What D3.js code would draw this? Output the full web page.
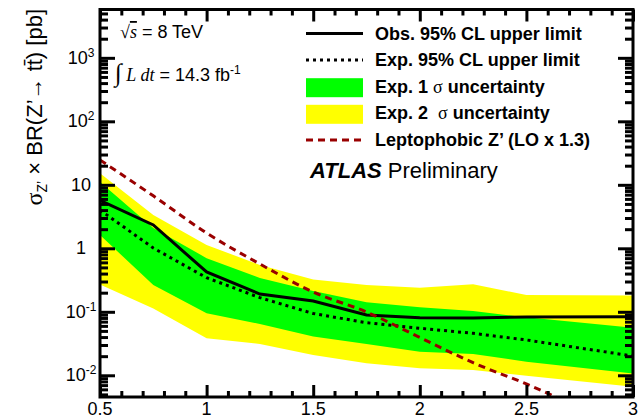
<!DOCTYPE html>
<html>
<head>
<meta charset="utf-8">
<script src="https://cdn.jsdelivr.net/npm/d3@7"></script>
<style>
  html, body { margin: 0; padding: 0; background: #fff; }
  svg { display: block; }
  text { font-family: "Liberation Sans", Arial, Helvetica, sans-serif; fill: #000; }
</style>
</head>
<body>
<svg id="chart" width="640" height="419"></svg>
<script>
// Z' mass points (TeV) used for the limit curves
const massPoints = [0.5, 0.75, 1.0, 1.25, 1.5, 1.75, 2.0, 2.25, 2.5, 3.0];
// 95% CL upper limits on sigma x BR (pb)
const observed = [5.7, 2.33, 0.424, 0.19, 0.148, 0.089, 0.0807, 0.0798, 0.0828, 0.0837];
const expected = [4.0, 1.01, 0.344, 0.167, 0.094, 0.0673, 0.055, 0.0458, 0.036, 0.0201];
// expected-limit uncertainty bands
const plus1Sigma  = [11.1, 2.09, 0.70, 0.34, 0.213, 0.141, 0.118, 0.103, 0.0818, 0.0563];
const minus1Sigma = [1.62, 0.264, 0.0946, 0.0643, 0.0408, 0.0311, 0.0235, 0.0216, 0.0164, 0.0107];
const plus2Sigma  = [15.2, 3.34, 1.13, 0.546, 0.323, 0.264, 0.240, 0.271, 0.184, 0.180];
const minus2Sigma = [0.269, 0.113, 0.0383, 0.0311, 0.0209, 0.0155, 0.0129, 0.0121, 0.00986, 0.0066];
// leptophobic Z' theory cross section (LO x 1.3)
const theoryMass = [0.5, 0.75, 1.0, 1.25, 1.5, 1.75, 2.0, 2.25, 2.5, 2.75, 3.0];
const theoryXsec = [24.6, 6.7, 1.74, 0.566, 0.205, 0.0993, 0.0394, 0.0158, 0.0073, 0.0031, 0.0014];
// axis ticks
const xMajorTicks = [0.5, 1, 1.5, 2, 2.5, 3];
const xTickLabels = ["0.5", "1", "1.5", "2", "2.5", "3"];
const yMajorTicks = [0.01, 0.1, 1, 10, 100, 1000];
const yTickBase = ["10", "10", "1", "10", "10", "10"];
const yTickExp  = ["-2", "-1", "", "", "2", "3"];

const svg = d3.select("#chart");
const L = 100, R = 633, T = 9.5, B = 397;

const x = d3.scaleLinear().domain([0.5, 3]).range([L, R]);
const y = d3.scaleLog().domain([0.00455, 5770]).range([B, T]);

svg.append("defs").append("clipPath").attr("id", "plotClip")
  .append("rect").attr("x", L).attr("y", T).attr("width", R - L).attr("height", B - T);

const plot = svg.append("g").attr("clip-path", "url(#plotClip)");

const rows = massPoints.map((m, i) => ({
  m, obs: observed[i], exp: expected[i],
  p1: plus1Sigma[i], m1: minus1Sigma[i], p2: plus2Sigma[i], m2: minus2Sigma[i]
}));

const band = (lo, hi) => d3.area().x(d => x(d.m)).y0(d => y(d[lo])).y1(d => y(d[hi]));

plot.append("path").datum(rows).attr("d", band("m2", "p2")).attr("fill", "#ffff00");
plot.append("path").datum(rows).attr("d", band("m1", "p1")).attr("fill", "#00ff00");

const line = key => d3.line().x(d => x(d.m)).y(d => y(d[key]));

plot.append("path").datum(rows).attr("d", line("exp"))
  .attr("fill", "none").attr("stroke", "#000").attr("stroke-width", 3)
  .attr("stroke-dasharray", "3,4");
plot.append("path").datum(rows).attr("d", line("obs"))
  .attr("fill", "none").attr("stroke", "#000").attr("stroke-width", 3);

const theory = theoryMass.map((m, i) => ({ m, v: theoryXsec[i] }));
plot.append("path").datum(theory)
  .attr("d", d3.line().x(d => x(d.m)).y(d => y(d.v)).curve(d3.curveMonotoneX))
  .attr("fill", "none").attr("stroke", "#990000").attr("stroke-width", 3)
  .attr("stroke-dasharray", "7,5");

// tick marks on all four sides, pointing inward
const xMinor = d3.range(5, 31).map(v => v / 10).filter(v => !xMajorTicks.some(t => Math.abs(t - v) < 1e-9));
const yMinor = [];
for (let e = -3; e <= 3; e++) for (let k = 2; k <= 9; k++) {
  const v = k * Math.pow(10, e);
  if (v > 0.00455 && v < 5770) yMinor.push(v);
}

function tickAxis(gen, scale, values, size, transform) {
  const g = svg.append("g").attr("transform", transform)
    .call(gen(scale).tickValues(values).tickSize(size).tickFormat(""));
  g.select(".domain").remove();
  g.selectAll(".tick line").attr("stroke", "#000").attr("stroke-width", 3);
}
tickAxis(d3.axisBottom, x, xMajorTicks, -12, `translate(0,${B})`);
tickAxis(d3.axisBottom, x, xMinor, -6, `translate(0,${B})`);
tickAxis(d3.axisTop, x, xMajorTicks, -12, `translate(0,${T})`);
tickAxis(d3.axisTop, x, xMinor, -6, `translate(0,${T})`);
tickAxis(d3.axisLeft, y, yMajorTicks, -15, `translate(${L},0)`);
tickAxis(d3.axisLeft, y, yMinor, -8, `translate(${L},0)`);
tickAxis(d3.axisRight, y, yMajorTicks, -15, `translate(${R},0)`);
tickAxis(d3.axisRight, y, yMinor, -8, `translate(${R},0)`);

svg.append("rect").attr("x", L).attr("y", T).attr("width", R - L).attr("height", B - T)
  .attr("fill", "none").attr("stroke", "#000").attr("stroke-width", 3);

// tick labels
svg.append("g").selectAll("text").data(xMajorTicks).join("text")
  .attr("x", d => x(d)).attr("y", 415).attr("text-anchor", "middle")
  .attr("font-size", 18).text((d, i) => xTickLabels[i]);

const yl = svg.append("g").selectAll("text").data(yMajorTicks).join("text")
  .attr("x", 81).attr("y", d => y(d) + 6).attr("text-anchor", "middle").attr("font-size", 18);
yl.append("tspan").text((d, i) => yTickBase[i]);
yl.append("tspan").attr("dy", -7).attr("font-size", 12).text((d, i) => yTickExp[i]);

// y-axis title
const serif = "'Liberation Serif', 'DejaVu Serif', serif";
const yt = svg.append("text").attr("transform", "translate(42,9) rotate(-90)")
  .attr("text-anchor", "end").attr("font-size", 22);
yt.append("tspan").attr("font-family", serif).attr("font-size", 24).text("σ");
yt.append("tspan").attr("font-size", 14).attr("dy", 5).text("Z’");
yt.append("tspan").attr("dy", -5).text(" × BR(Z’→ tt\u0304) [pb]");

// energy and luminosity
const t1 = svg.append("text").attr("x", 120).attr("y", 38).attr("font-size", 18);
t1.append("tspan").attr("font-family", serif).text("√");
t1.append("tspan").attr("font-family", serif).attr("font-style", "italic")
  .attr("text-decoration", "overline").text("s");
t1.append("tspan").text(" = 8 TeV");

const t2 = svg.append("text").attr("x", 115).attr("y", 81).attr("font-size", 18);
t2.append("tspan").attr("font-family", serif).attr("font-size", 25).text("∫");
t2.append("tspan").attr("font-family", serif).attr("font-style", "italic").text(" L dt");
t2.append("tspan").text(" = 14.3 fb");
t2.append("tspan").attr("dy", -7).attr("font-size", 12).text("-1");

// legend
const legendRows = [
  { kind: "solid", label: ["Obs. 95% CL upper limit"] },
  { kind: "dotted", label: ["Exp. 95% CL upper limit"] },
  { kind: "green", label: ["Exp. 1 ", "σ", " uncertainty"] },
  { kind: "yellow", label: ["Exp. 2  ", "σ", " uncertainty"] },
  { kind: "dashed", label: ["Leptophobic Z’ (LO x 1.3)"] }
];
const lg = svg.append("g");
legendRows.forEach((r, i) => {
  const base = 39.5 + i * 26.6;
  const g = lg.append("g");
  if (r.kind === "green" || r.kind === "yellow") {
    g.append("rect").attr("x", 306).attr("y", base - 14.5).attr("width", 57).attr("height", 19)
      .attr("fill", r.kind === "green" ? "#00ff00" : "#ffff00");
  } else {
    const ln = g.append("line").attr("x1", 306).attr("x2", 363)
      .attr("y1", base - 6).attr("y2", base - 6).attr("stroke-width", 3)
      .attr("stroke", r.kind === "dashed" ? "#990000" : "#000");
    if (r.kind === "dotted") ln.attr("stroke-dasharray", "3,4");
    if (r.kind === "dashed") ln.attr("stroke-dasharray", "7,5");
  }
  const t = g.append("text").attr("x", 375).attr("y", base).attr("font-size", 18).attr("font-weight", "bold");
  r.label.forEach(s => {
    const sp = t.append("tspan").text(s).attr("xml:space", "preserve").style("white-space", "pre");
    if (s === "σ") sp.attr("font-family", serif).attr("font-weight", "normal");
  });
});

// experiment label
const at = svg.append("text").attr("x", 310).attr("y", 178).attr("font-size", 22);
at.append("tspan").attr("font-weight", "bold").attr("font-style", "italic").text("ATLAS");
at.append("tspan").text(" Preliminary");
</script>
</body>
</html>
